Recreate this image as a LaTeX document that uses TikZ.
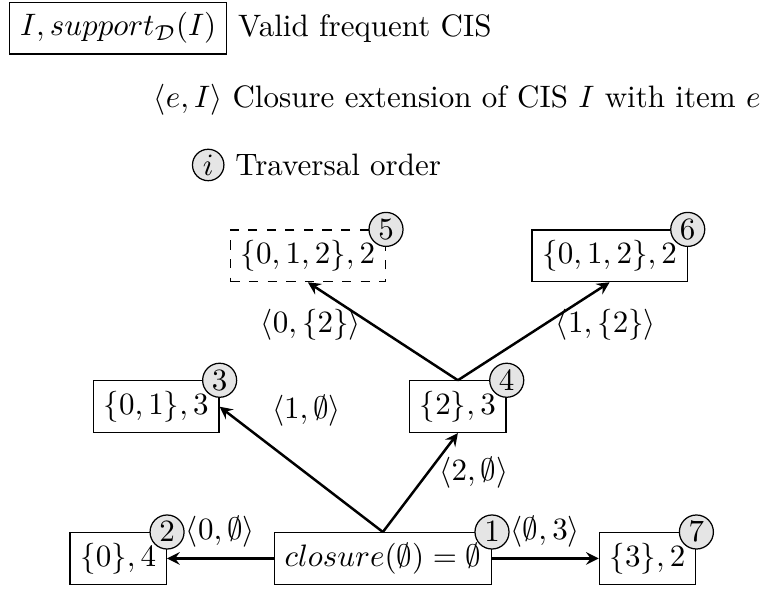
\documentclass[tikz,border=0pt]{standalone}
\usetikzlibrary{quotes}
\usetikzlibrary{positioning}

\begin{document}
\begin{tikzpicture}[%
        cis/.style={
            % the shape:
            rectangle,
            % the rest:
            draw,
            inner sep=3.33pt,
        },
        pruned/.style={
            cis,
            dashed,
        },
        order/.style={
            circle,
            draw,
            fill=black!10,
            inner sep=1pt,
        },
        ext/.style={
            ->,
            thick,
        },
        >=stealth
    ]
    \useasboundingbox (0,0) rectangle (8.66,6.69);

    % legend
    \node[cis] (legCIS) at (1.34,6.37) {$I, support_{\mathcal{D}}(I)$};
    \node[right=0pt of legCIS] (legCIStext) {Valid frequent CIS};
    \node[anchor=west] (legExt) at (1.62,5.56) {$\langle e,I\rangle$ Closure extension of CIS $I$ with item $e$};
    \node[order] (legOrd) at (2.36,4.82) {$i$};
    \node[right=0pt of legOrd] (legOrdtext) {Traversal order};

    % the search tree
    \node[cis] (root) at (4.34,0.36) {$closure(\emptyset) = \emptyset$};
    \node[cis] (s0) at (1.34,0.36) {$\{0\},4$};
    \node[cis] (s3) at (7.34,0.36) {$\{3\},2$};
    \node[cis] (s01) at (1.77,2.08) {$\{0,1\},3$};
    \node[cis] (s2) at (5.19,2.08) {$\{2\},3$};
    \node[pruned] (s012dup) at (3.49,3.79) {$\{0,1,2\},2$};
    \node[cis] (s012) at (6.91,3.79) {$\{0,1,2\},2$};

    \draw[ext] (root.west) to["{$\langle 0,\emptyset\rangle$}" above] (s0.east);
    \draw[ext] (root.north) to["{$\langle 1,\emptyset\rangle$}" {pos=0.75, above right}] (s01.east);
    \draw[ext] (root.north) to["{$\langle 2,\emptyset\rangle$}" {pos=0.6, right}] (s2.south);
    \draw[ext] (s2.north) to["{$\langle 0,\{2\}\rangle$}" {pos=0.57, left}] (s012dup.south);
    \draw[ext] (s2.north) to["{$\langle 1,\{2\}\rangle$}" {pos=0.57, right}] (s012.south);
    \draw[ext] (root.east) to["{$\langle \emptyset,3\rangle$}" above] (s3.west);

    % traversal order
    \node[order] (o1) at (root.north east) {$1$};
    \node[order] (o2) at (s0.north east) {$2$};
    \node[order] (o3) at (s01.north east) {$3$};
    \node[order] (o4) at (s2.north east) {$4$};
    \node[order] (o5) at (s012dup.north east) {$5$};
    \node[order] (o6) at (s012.north east) {$6$};
    \node[order] (o7) at (s3.north east) {$7$};

\end{tikzpicture}
\end{document}
